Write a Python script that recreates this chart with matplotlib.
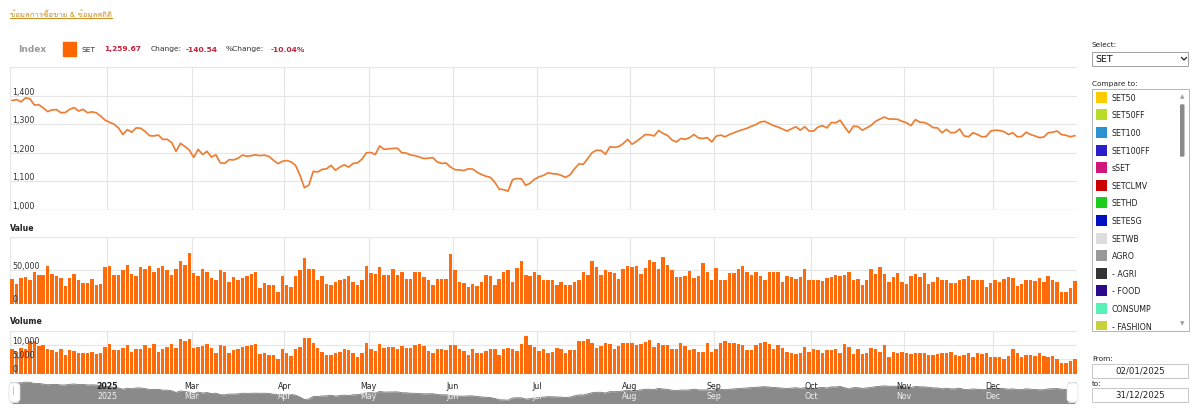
"""
SET index 2025 - price / value / volume panel, rebuilt from a screenshot
Saves out.png (1200x414)
"""

import numpy as np
import matplotlib
matplotlib.use("Agg")
import matplotlib.pyplot as plt
import matplotlib.patches as mpatches
import matplotlib.transforms as mtransforms
from matplotlib.lines import Line2D
from matplotlib import font_manager
from matplotlib.ft2font import FT2Font

W, H = 1200, 414

# ── Data (trading days of 2025) ──────────────────────────────────────────────
MONTH_DAYS   = [22, 19, 21, 19, 19, 19, 21, 19, 22, 21, 20, 19]
MONTH_LABELS = ["2025", "Mar", "Apr", "May", "Jun", "Jul", "Aug", "Sep", "Oct", "Nov", "Dec"]

SET_CLOSE = [
    # Jan
    1383, 1386, 1378, 1392, 1389, 1367, 1368, 1357, 1344, 1350, 1351, 1340, 1341, 1352, 1358,
    1346, 1352, 1340, 1343, 1340, 1328, 1314,
    # Feb
    1307, 1300, 1287, 1264, 1281, 1272, 1287, 1286, 1275, 1260, 1259, 1262, 1247, 1247, 1236,
    1205, 1233, 1222, 1210,
    # Mar
    1184, 1212, 1194, 1205, 1185, 1193, 1165, 1163, 1176, 1175, 1181, 1192, 1188, 1190, 1193,
    1190, 1192, 1187, 1174, 1162, 1170,
    # Apr
    1173, 1168, 1156, 1121, 1078, 1087, 1135, 1133, 1142, 1144, 1156, 1139, 1150, 1158, 1150,
    1163, 1165, 1178, 1200,
    # May
    1201, 1194, 1224, 1212, 1214, 1215, 1216, 1200, 1199, 1192, 1190, 1185, 1180, 1181, 1183,
    1168, 1163, 1164, 1150,
    # Jun
    1141, 1140, 1138, 1144, 1143, 1132, 1124, 1118, 1114, 1097, 1073, 1071, 1066, 1106, 1110,
    1109, 1086, 1094, 1108,
    # Jul
    1116, 1121, 1130, 1127, 1126, 1121, 1114, 1123, 1144, 1161, 1160, 1180, 1201, 1209, 1208,
    1195, 1221, 1219, 1222, 1232, 1247,
    # Aug
    1230, 1240, 1252, 1264, 1263, 1259, 1278, 1268, 1261, 1245, 1238, 1250, 1247, 1253, 1264,
    1252, 1250, 1253, 1238,
    # Sep
    1258, 1262, 1256, 1264, 1270, 1276, 1281, 1286, 1293, 1299, 1308, 1310, 1302, 1295, 1290,
    1283, 1276, 1284, 1291, 1279, 1291, 1276,
    # Oct
    1276, 1290, 1295, 1287, 1306, 1305, 1314, 1291, 1270, 1293, 1292, 1279, 1287, 1296, 1310,
    1318, 1325, 1318, 1318, 1317, 1310,
    # Nov
    1305, 1295, 1316, 1307, 1306, 1299, 1288, 1287, 1270, 1282, 1270, 1271, 1283, 1259, 1256,
    1270, 1264, 1256, 1257, 1276,
    # Dec
    1279, 1278, 1274, 1264, 1270, 1256, 1257, 1272, 1264, 1259, 1253, 1255, 1270, 1272, 1276,
    1264, 1261, 1256, 1260,
]

# trading value, thousand MB
SET_VALUE = [
    37, 29.6, 38, 39.8, 36, 47.4, 43, 43, 56.6, 45, 41, 38, 26, 38, 44, 34.7, 31, 31, 37, 28,
    29.6, 55, 56, 43, 43, 50, 57.6, 45, 41, 55, 52.5, 56.6, 48, 53.5, 56.6, 50, 43, 51.5, 63.7, 57.6,
    75.5, 46, 42, 52.5, 48, 38, 34.7, 51, 47, 33, 40, 34.7, 38, 42, 45, 47, 23.5, 31, 28, 28.5,
    18, 41, 28, 25.5, 41, 50, 68, 52.5, 51.5, 34.7, 42, 29.6, 28.5, 32, 35.7, 37, 41, 33, 28, 36,
    56, 46, 45, 55, 43, 43, 52.5, 43, 47,
    37, 37, 48, 47, 40, 34.7, 28.5, 37, 37, 37, 74.5, 51, 33, 31, 25.5, 29.6, 26, 33, 43, 42,
    28.5, 37, 47, 51, 33, 53.5, 63.7, 43, 41, 48, 43, 36, 36, 36, 28.5, 32, 28, 28.5, 33, 34.7,
    48, 43, 64, 55, 43, 50, 47, 46, 37, 52.5, 56, 55, 56, 45, 53.5, 66, 63, 51.5, 70, 58.6,
    50, 40, 40, 42, 49, 38, 41, 61, 47, 36, 53.5, 36, 34.7, 46, 46, 51.5, 56, 47, 43, 47,
    42, 36, 48, 48, 48, 32, 41, 40, 37,
    40, 51.5, 36, 36, 35.7, 33.6, 38, 40, 43, 41, 43, 47, 34.7, 37, 28, 34.7, 52.5, 45, 55, 45,
    33, 40, 46, 33, 29.6, 41, 45, 40, 46, 29.6, 33, 40, 34.7, 34.7, 31, 30.6, 34.7, 37, 42, 36,
    35.7, 36, 24.5, 31, 35.7, 33, 37, 40, 38, 27, 29.6, 35, 36, 33.6, 38, 33, 41, 34.7, 32, 18,
    17, 23.5, 33.6,
]

# trading volume, thousand M shares
SET_VOLUME = [
    8.5, 7.5, 9, 8.5, 11.4, 11.4, 9.6, 9.9, 8.7, 8.2, 7.5, 8.5, 6.4, 8.1, 7.9, 7.1, 7, 7, 7.5, 6.7,
    7.3, 9.3, 10.2, 8.1, 8.1, 9, 10, 7.5, 8.5, 8.5, 9.9, 9, 10.2, 7.5, 8.7, 9.4, 10.2, 9, 12.2, 11.4,
    12, 9, 9.3, 9.6, 10.2, 9, 7.1, 9.9, 9.6, 7.3, 8.1, 8.5, 9.4, 9.6, 9.9, 10.2, 6.7, 7.3, 6.4, 6.4,
    5.2, 8.7, 7.3, 6.1, 8.5, 9.4, 12.3, 12.3, 10.6, 9, 7.5, 6.4, 6.4, 7.1, 7.5, 8.5, 8.1, 7.3, 5.6, 7.1,
    10.8, 8.7, 7.9, 10.2, 9, 9.3, 9.3, 8.7, 9.6,
    9, 9, 9.9, 10.2, 9.6, 7.9, 7.3, 8.5, 8.5, 8.1, 9.9, 9.9, 8.5, 7.9, 6.4, 8.5, 7.3, 7.1, 7.9, 8.5,
    8.5, 6.4, 8.7, 9, 8.5, 7.9, 10.2, 13.1, 9.9, 9.4, 7.9, 8.5, 7.3, 7.5, 9, 8.7, 7, 8.1, 8.1, 11.4,
    11.4, 12, 10.6, 9, 9.6, 10.6, 10.4, 8.7, 9.6, 10.8, 10.6, 10.6, 9.9, 10.2, 11, 11.7, 9.4, 10.8, 9.9, 9.9,
    8.7, 8.5, 10.6, 9.6, 8.2, 8.7, 7.5, 7.5, 10.8, 7.5, 8.5, 10.8, 11.4, 10.8, 10.8, 10.2, 9.9, 8.1, 8.1, 9.9,
    10.6, 11, 10.2, 8.7, 9.9, 9, 7.5, 7.3, 6.7,
    7.3, 9.4, 7.5, 8.5, 8.1, 7.3, 8.1, 8.1, 8.7, 7.3, 10.2, 9.3, 6.7, 8.5, 6.7, 7.3, 9, 8.5, 7.5, 9.9,
    5.9, 7.5, 7.3, 7.5, 7.3, 6.7, 7.1, 7, 7, 6.4, 6.4, 6.7, 7.3, 7.3, 7.5, 6.4, 6.1, 6.4, 7.1, 5.9,
    7.3, 6.8, 7.1, 5.9, 5.9, 5.9, 5.2, 6.1, 8.5, 7.1, 5.9, 6.5, 6.4, 6.2, 7, 6.1, 5.6, 6.1, 5.2, 3.6,
    3.6, 4.4, 5.2,
]

COMPARE_NAMES  = ["SET50", "SET50FF", "SET100", "SET100FF", "sSET", "SETCLMV", "SETHD",
                  "SETESG", "SETWB", "AGRO", "- AGRI", "- FOOD", "CONSUMP", "- FASHION"]
COMPARE_COLORS = ["#ffcc00", "#b8dc28", "#2a92d0", "#2a1ec8", "#d0187c", "#cc0000", "#1ccc1c",
                  "#0010c0", "#dddddd", "#999999", "#333333", "#2c0a8c", "#58f0b4", "#c8d03c"]

HEADER_TITLE = "ข้อมูลการซื้อขาย & ข้อมูลสถิติ"

# ── Styles ───────────────────────────────────────────────────────────────────
ORANGE    = "#ff6a0a"
LINE_COL  = "#ec7f35"
GRID      = "#e6e6e6"
RED       = "#c8203a"
TEXT      = "#333333"
FONT      = "DejaVu Sans"


def find_thai_font():
    for f in font_manager.fontManager.ttflist:
        try:
            if 0x0E01 in FT2Font(f.fname).get_charmap():
                return f.name
        except Exception:
            continue
    return None


def fx(x):
    return x / W


def fy(y):
    return 1 - y / H


def add_panel(fig, top, bottom):
    ax = fig.add_axes([fx(10), fy(bottom), 1067 / W, (bottom - top) / H])
    for s in ax.spines.values():
        s.set_visible(False)
    ax.set_xticks([])
    ax.set_yticks([])
    return ax


def month_ticks():
    starts = np.cumsum([0] + MONTH_DAYS[:-1])
    return starts - 0.5  # gridline sits at the left edge of the first bar


def draw_grid(ax, yvals, n, labels=None, fmt=None):
    for t in month_ticks():
        ax.axvline(t, color=GRID, lw=0.8, zorder=0)
    for v in yvals:
        ax.axhline(v, color=GRID, lw=0.8, zorder=0)
    ax.set_xlim(-0.5, n - 0.5)
    if labels:
        for v in labels:
            ax.text(0.002, v, fmt(v), transform=ax.get_yaxis_transform(),
                    ha="left", va="bottom", fontsize=5.8, color=TEXT, zorder=5)


def main():
    thai = find_thai_font()
    plt.rcParams["font.family"] = [FONT]

    fig = plt.figure(figsize=(W / 100, H / 100), dpi=100)
    fig.patch.set_facecolor("white")

    n = len(SET_CLOSE)
    x = np.arange(n)

    # ── header ──
    fam = [thai, FONT] if thai else [FONT]
    t = fig.text(fx(10), fy(15), HEADER_TITLE, family=fam, fontsize=5.6,
                 color="#c98a1c", ha="left", va="center")
    fig.canvas.draw()
    bb = t.get_window_extent()
    fig.add_artist(Line2D([bb.x0 / W, bb.x1 / W], [fy(19), fy(19)],
                          transform=fig.transFigure, color="#c98a1c", lw=0.7))

    fig.text(fx(18), fy(50), "Index", fontsize=6.5, fontweight="bold", color="#9a9a9a",
             ha="left", va="center")
    fig.add_artist(mpatches.Rectangle((fx(62.5), fy(56.5)), 13.5 / W, 13.5 / H,
                                      transform=fig.transFigure, color="#ff6600"))
    hdr = [(81, "SET", TEXT, "normal"), (104, "1,259.67", RED, "bold"),
           (150.5, "Change:", TEXT, "normal"), (186, "-140.54", RED, "bold"),
           (226, "%Change:", TEXT, "normal"), (271, "-10.04%", RED, "bold")]
    for xp, s, c, w in hdr:
        fig.text(fx(xp), fy(49.5), s, fontsize=5.4, color=c, fontweight=w,
                 ha="left", va="center")

    # ── price ──
    ax_p = add_panel(fig, 68, 211)
    ax_p.plot(x, SET_CLOSE, color=LINE_COL, lw=1.25, zorder=3, solid_joinstyle="round")
    ax_p.set_ylim(1000, 1500)
    draw_grid(ax_p, [1100, 1200, 1300, 1400, 1500], n,
              [1000, 1100, 1200, 1300, 1400], lambda v: f"{v:,.0f}")
    ax_p.axhline(1000, color="#cccccc", lw=0.9, zorder=1)

    # ── value ──
    ax_v = add_panel(fig, 238, 304.5)
    ax_v.bar(np.arange(len(SET_VALUE)), SET_VALUE, width=0.78, color=ORANGE, lw=0, zorder=2)
    ax_v.set_ylim(0, 100)
    draw_grid(ax_v, [50, 100], n, [0, 50], lambda v: f"{v * 1000:,.0f}")
    fig.text(fx(10), fy(229), "Value", fontsize=5.6, fontweight="bold", color="#222222",
             ha="left", va="center")

    # ── volume ──
    ax_q = add_panel(fig, 331.5, 374.5)
    ax_q.bar(np.arange(len(SET_VOLUME)), SET_VOLUME, width=0.78, color=ORANGE, lw=0, zorder=2)
    ax_q.set_ylim(0, 15)
    draw_grid(ax_q, [5, 10, 15], n, [0, 5, 10], lambda v: f"{v * 1000:,.0f}")
    fig.text(fx(10), fy(322), "Volume", fontsize=5.6, fontweight="bold", color="#222222",
             ha="left", va="center")

    # month labels under the volume panel
    tr = mtransforms.blended_transform_factory(ax_q.transData, fig.transFigure)
    for pos, lab in zip(month_ticks()[1:], MONTH_LABELS):
        fig.text(pos, fy(386.5), lab, transform=tr, fontsize=5.7, color="#222222",
                 fontweight="bold" if lab == "2025" else "normal", ha="center", va="center")

    # ── navigator ──
    ax_n = add_panel(fig, 381, 404)
    ax_n.fill_between(x, SET_CLOSE, 900, color="#8a8a8a", lw=0, zorder=1)
    ax_n.plot(x, SET_CLOSE, color="#7a7a7a", lw=0.6, zorder=2)
    ax_n.set_xlim(-0.5, n - 0.5)
    ax_n.set_ylim(1015, 1430)
    trn = mtransforms.blended_transform_factory(ax_n.transData, fig.transFigure)
    for pos, lab in zip(month_ticks()[1:], MONTH_LABELS):
        fig.text(pos, fy(397), lab, transform=trn, fontsize=5.7, color="#f2f2f2",
                 ha="center", va="center", zorder=5)
    for x0 in (9, 1067):
        fig.add_artist(mpatches.FancyBboxPatch(
            (fx(x0), fy(403.5)), 11 / W, 20 / H, transform=fig.transFigure,
            boxstyle="round,pad=0,rounding_size=0.008", facecolor="white",
            edgecolor="#dddddd", lw=0.5, zorder=6))
    fig.add_artist(Line2D([fx(12.5), fx(12.5)], [fy(387), fy(395)],
                          transform=fig.transFigure, color="#bbbbbb", lw=0.6, zorder=7))

    # ── right side controls ──
    fig.text(fx(1092), fy(45), "Select:", fontsize=5.3, color="#222222", ha="left", va="center")
    fig.add_artist(mpatches.Rectangle((fx(1092), fy(67)), 96 / W, 14.5 / H,
                                      transform=fig.transFigure, facecolor="white",
                                      edgecolor="#a0a0a0", lw=0.7))
    fig.text(fx(1095), fy(60), "SET", fontsize=6.8, color="#111111", ha="left", va="center")
    fig.add_artist(Line2D([fx(1181.5), fx(1184), fx(1186.5)], [fy(58.5), fy(61), fy(58.5)],
                          transform=fig.transFigure, color="#222222", lw=0.9))

    fig.text(fx(1092), fy(84), "Compare to:", fontsize=5.3, color="#222222", ha="left", va="center")
    fig.add_artist(mpatches.Rectangle((fx(1092), fy(331.5)), 97 / W, 242 / H,
                                      transform=fig.transFigure, facecolor="white",
                                      edgecolor="#b4b4b4", lw=0.7))
    for i, (name, col) in enumerate(zip(COMPARE_NAMES, COMPARE_COLORS)):
        yc = 98.3 + i * 17.6
        if yc + 5.5 > 331:
            h = 331 - (yc - 5.5)
        else:
            h = 11
        fig.add_artist(mpatches.Rectangle((fx(1095.5), fy(yc - 5.5 + h)), 11 / W, h / H,
                                          transform=fig.transFigure, color=col, lw=0))
        fig.text(fx(1112), fy(yc), name, fontsize=5.7, color="#222222", ha="left", va="center")
    # scrollbar
    fig.text(fx(1182), fy(97), "▲", fontsize=4.2, color="#a0a0a0", ha="center", va="center")
    fig.text(fx(1182), fy(324), "▼", fontsize=4.2, color="#a0a0a0", ha="center", va="center")
    fig.add_artist(mpatches.FancyBboxPatch(
        (fx(1180), fy(158)), 4.5 / W, 53 / H, transform=fig.transFigure,
        boxstyle="round,pad=0,rounding_size=0.003", facecolor="#8a8a8a", lw=0))

    fig.text(fx(1092), fy(359.5), "From:", fontsize=5.3, color="#222222", ha="left", va="center")
    fig.add_artist(mpatches.Rectangle((fx(1092), fy(378.5)), 96 / W, 14 / H,
                                      transform=fig.transFigure, facecolor="white",
                                      edgecolor="#c8c8c8", lw=0.7))
    fig.text(fx(1140), fy(371.5), "02/01/2025", fontsize=6.2, color="#222222",
             ha="center", va="center")
    fig.text(fx(1092), fy(384), "to:", fontsize=5.3, color="#222222", ha="left", va="center")
    fig.add_artist(mpatches.Rectangle((fx(1092), fy(402.5)), 96 / W, 13.5 / H,
                                      transform=fig.transFigure, facecolor="white",
                                      edgecolor="#c8c8c8", lw=0.7))
    fig.text(fx(1140), fy(395.5), "31/12/2025", fontsize=6.2, color="#222222",
             ha="center", va="center")

    fig.savefig("out.png", dpi=100)
    print("Saved to out.png")


if __name__ == "__main__":
    main()
